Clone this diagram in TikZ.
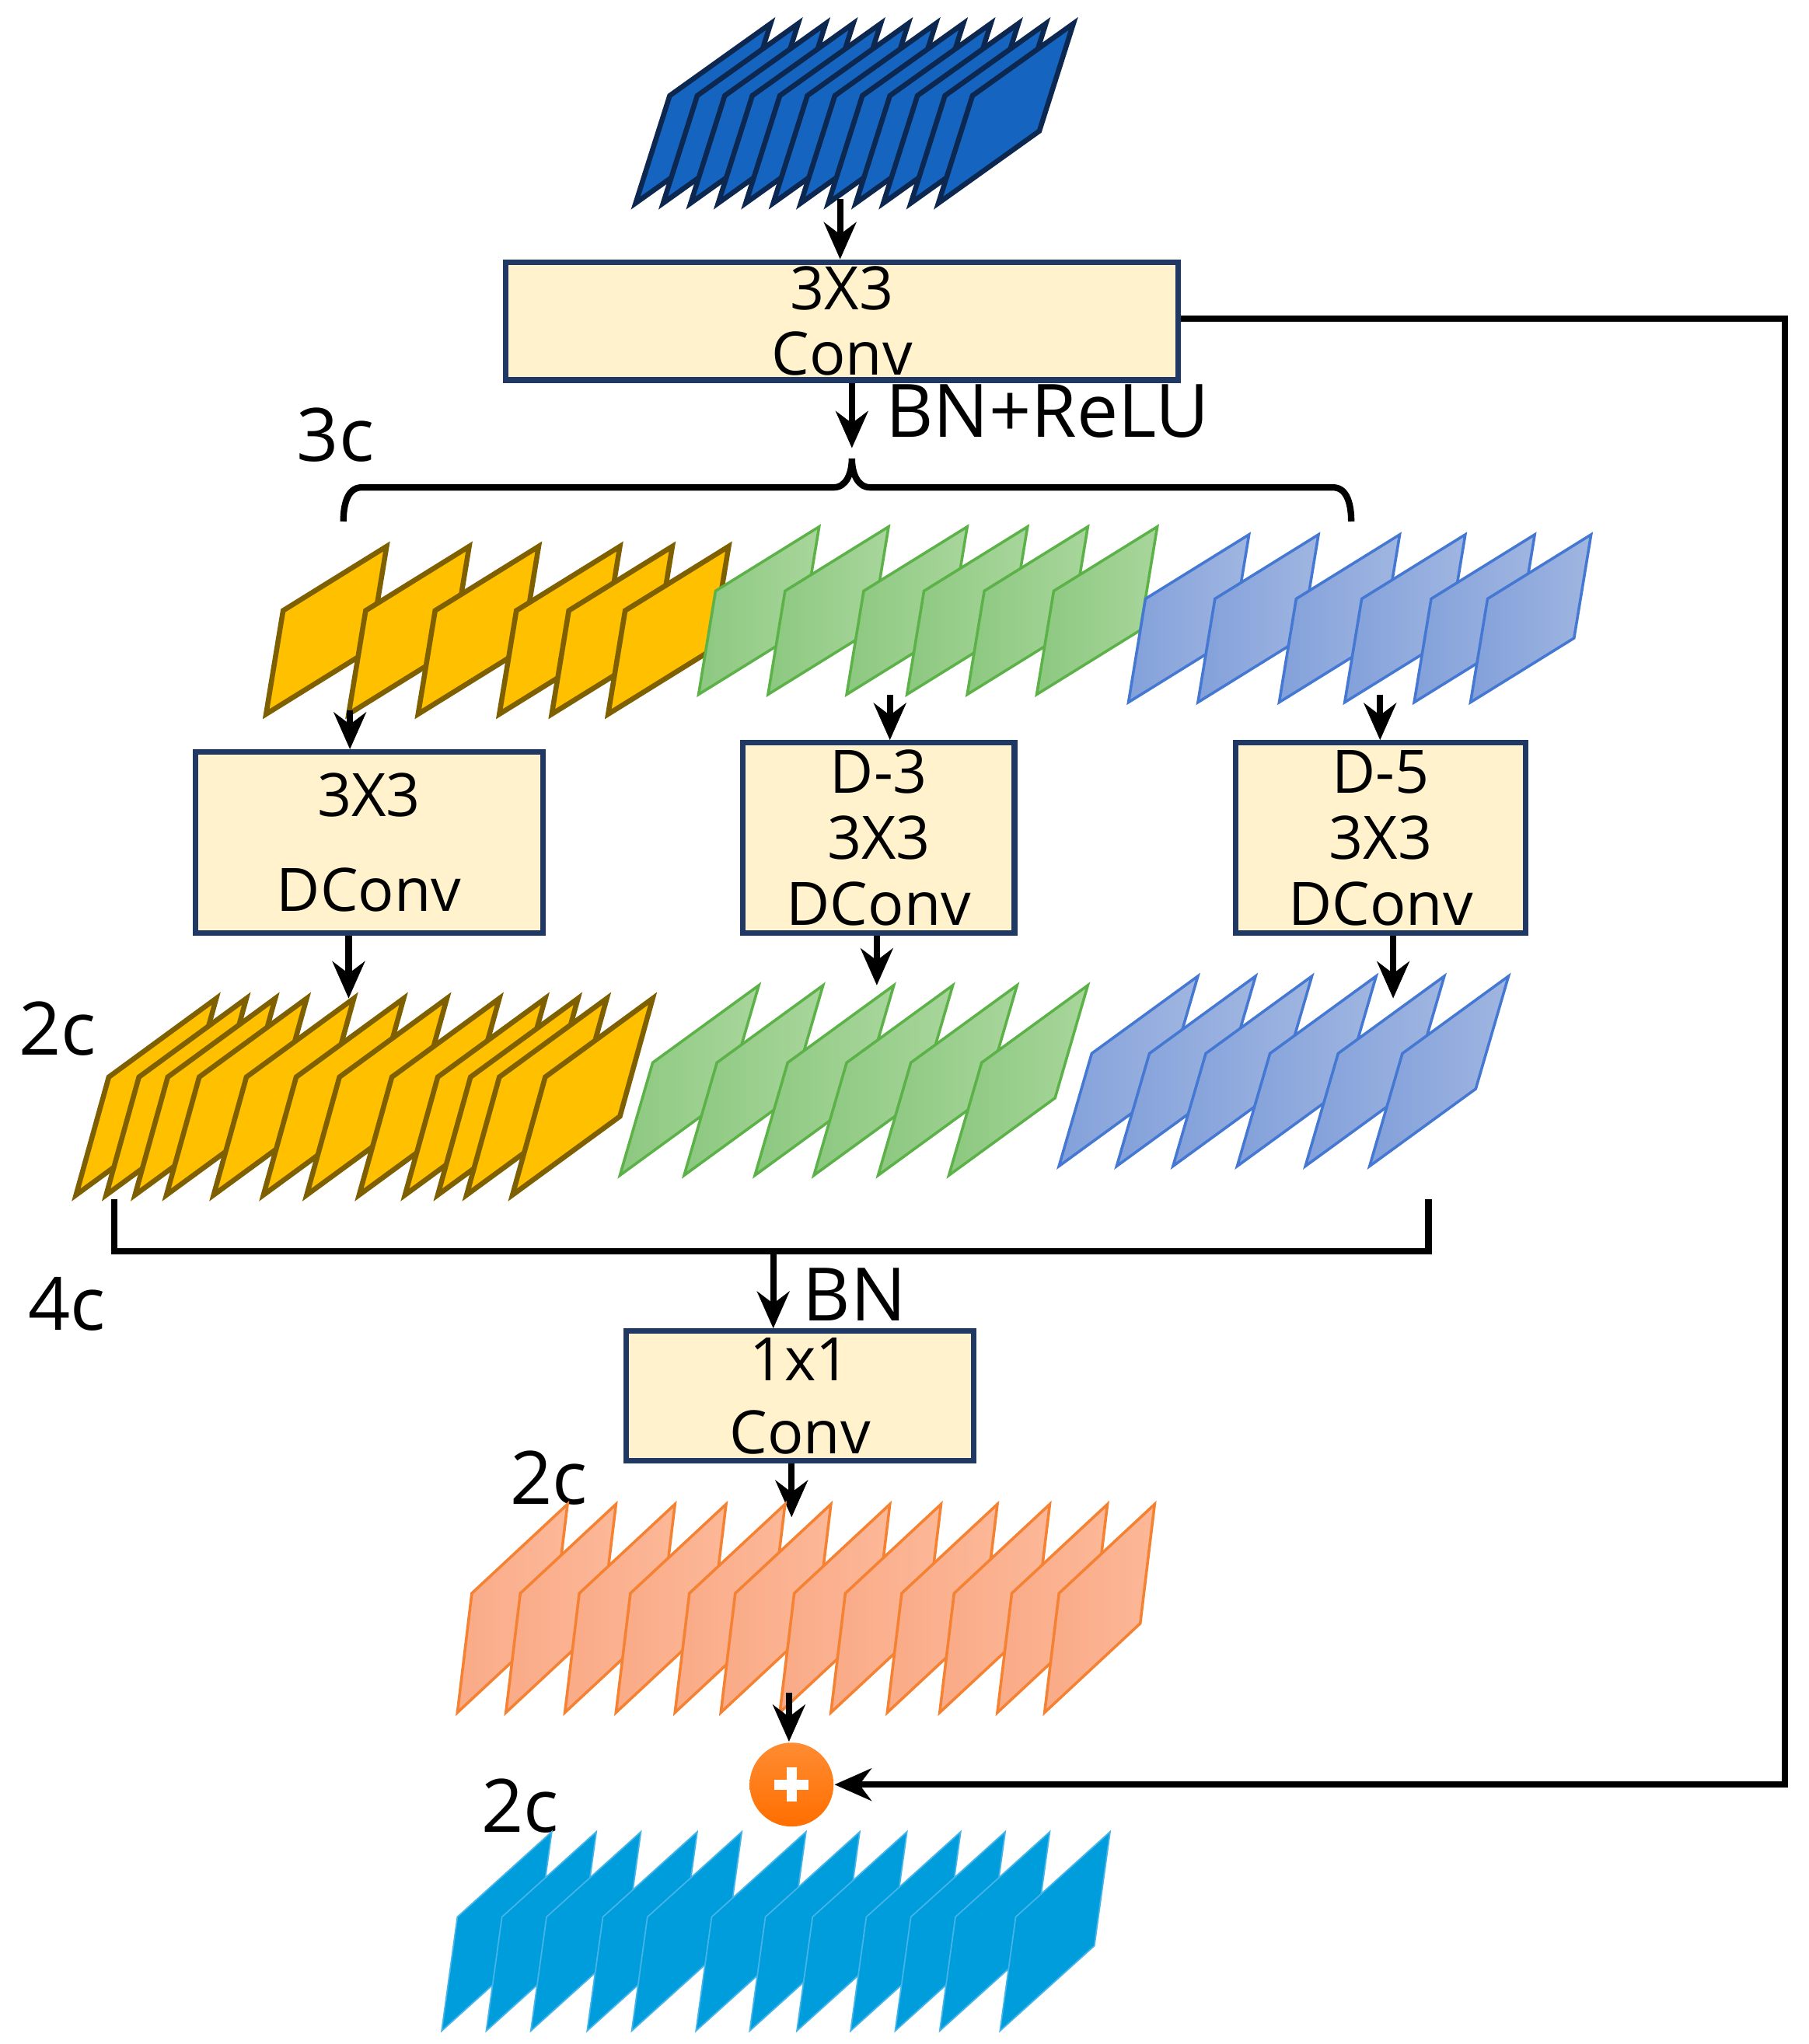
\documentclass[tikz,border=0pt]{standalone}
\usepackage{fontspec}
\setmainfont{Open Sans}
\usetikzlibrary{arrows.meta}
\definecolor{boxfill}{RGB}{255,242,204}
\definecolor{boxline}{RGB}{31,56,100}
\definecolor{dblue}{RGB}{21,101,192}
\definecolor{dblueL}{RGB}{12,40,80}
\definecolor{yel}{RGB}{255,192,0}
\definecolor{yelL}{RGB}{127,96,0}
\definecolor{grA}{RGB}{140,200,128}
\definecolor{grB}{RGB}{168,214,155}
\definecolor{grL}{RGB}{92,178,72}
\definecolor{blA}{RGB}{130,160,218}
\definecolor{blB}{RGB}{160,182,225}
\definecolor{blL}{RGB}{68,120,210}
\definecolor{orA}{RGB}{250,170,135}
\definecolor{orB}{RGB}{252,184,152}
\definecolor{orL}{RGB}{245,130,50}
\definecolor{cyanF}{RGB}{0,157,220}
\definecolor{cyanL}{RGB}{70,180,232}
\definecolor{plusA}{RGB}{255,140,50}
\definecolor{plusB}{RGB}{255,110,0}
\newcommand\sheetrow[6]{% style, v1, v2, -v1, yb, xs
  \foreach \xx in {#6}{\path[#1] (\xx,#5) -- ++(#2) -- ++(#3) -- ++(#4) -- cycle;}}
\begin{document}
\begin{tikzpicture}[x=0.01cm,y=-0.01cm,
  box/.style={draw=boxline,line width=1.2pt,fill=boxfill,align=center,inner sep=0pt,font=\fontsize{13}{14.3}\selectfont},
  arr/.style={-{Stealth[length=8pt,width=7pt]},line width=1.4pt},
  ln/.style={line width=1.4pt},
  lab/.style={font=\fontsize{16}{19}\selectfont,inner sep=0pt},
  s1/.style={fill=dblue,draw=dblueL,line width=1.1pt,line join=miter},
  sy/.style={fill=yel,draw=yelL,line width=1.1pt},
  sg/.style={left color=grA,right color=grB,draw=grL,line width=0.6pt},
  sb/.style={left color=blA,right color=blB,draw=blL,line width=0.6pt},
  so/.style={left color=orA,right color=orB,draw=orL,line width=0.6pt},
  sc/.style={fill=cyanF,draw=cyanL,line width=0.3pt}]
\useasboundingbox (0,0) rectangle (1380,1560);
% top stack
\sheetrow{s1}{26,-82}{77,-55}{-26,82}{155}{485,506,527,548,569,590,611,632,653,674,695,716}
% box 1
\node[box,minimum width=5.13cm,minimum height=0.9cm] (c1) at (642.5,245) {3X3\\Conv};
\coordinate (t1) at (641,152);
\draw[arr] (t1) -- (c1.north -| t1);
% feedback
\node[circle,minimum size=0.64cm,inner sep=0pt,top color=plusA,bottom color=plusB] (plus) at (604,1362) {};
\draw[white,line width=2.2pt] (plus.center) ++(-13,0) -- ++(26,0) (plus.center) ++(0,-13) -- ++(0,26);
\coordinate (fr) at (1362,243);
\draw[arr] (c1.east |- fr) -- (fr) -- (fr |- plus) -- (plus.east);
% BN+ReLU
\coordinate (b1) at (650,342);
\draw[arr] (c1.south -| b1) -- (b1);
\node[lab,anchor=west] (bnr) at (675,314) {BN+ReLU};
\node[lab] (l3c) at (256,332) {3c};
% brace
\draw[ln] (262,398) to[out=90,in=180] (276,372) -- (636,372) to[out=0,in=-90] (650,350) to[out=-90,in=180] (664,372) -- (1017,372) to[out=0,in=90] (1031,398);
% row 1
\sheetrow{sy}{13,-79}{79,-49}{-13,79}{545}{203,266,319,381,421,464}
\sheetrow{sg}{13,-79}{79,-49}{-13,79}{530}{533,586,646,692,738,791}
\sheetrow{sb}{13,-79}{79,-49}{-13,79}{536}{861,914,976,1026,1079,1122}
% boxes
\node[box,minimum width=2.65cm,minimum height=1.38cm] (d1) at (281.5,643) {3X3\\[0.22cm]DConv};
\node[box,minimum width=2.07cm,minimum height=1.45cm] (d2) at (670.5,639.5) {D-3\\3X3\\DConv};
\node[box,minimum width=2.21cm,minimum height=1.45cm] (d3) at (1053.5,639.5) {D-5\\3X3\\DConv};
\coordinate (a1) at (267,542); \coordinate (a2) at (679,530); \coordinate (a3) at (1053,530);
\draw[arr] (a1) -- (d1.north -| a1);
\draw[arr] (a2) -- (d2.north -| a2);
\draw[arr] (a3) -- (d3.north -| a3);
\coordinate (e1) at (266,762); \coordinate (e2) at (669,752); \coordinate (e3) at (1063,762);
\draw[arr] (d1.south -| e1) -- (e1);
\draw[arr] (d2.south -| e2) -- (e2);
\draw[arr] (d3.south -| e3) -- (e3);
% row 2
\sheetrow{sy}{25,-90}{82,-60}{-25,90}{912}{58,81,103,127,163,201,234,274,309,334,356,391}
\sheetrow{sg}{25,-86}{81,-59}{-25,86}{897}{473,522,576,621,670,724}
\sheetrow{sb}{25,-86}{81,-59}{-25,86}{890}{808,852,895,944,996,1045}
\node[lab] (l2a) at (44,785) {2c};
% bracket
\draw[ln] (87,915) -- (87,955) -- (1090,955) -- (1090,915);
\node[box,minimum width=2.65cm,minimum height=0.99cm] (k1) at (610.5,1065.5) {1x1\\[0.05cm]Conv};
\coordinate (m1) at (590,955);
\draw[arr] (m1) -- (k1.north -| m1);
\node[lab,anchor=west] (bn) at (612,988) {BN};
\node[lab] (l4c) at (51,995) {4c};
% orange row
\coordinate (o1) at (604,1158);
\draw[arr] (k1.south -| o1) -- (o1);
\node[lab] (l2b) at (419,1128) {2c};
\sheetrow{so}{11,-91}{73,-68}{-11,91}{1307}{349,386,431,470,515,550,595,634,677,717,761,797}
\coordinate (p1) at (602,1292);
\draw[arr] (p1) -- (plus.north -| p1);
\node[lab] (l2c) at (397,1378) {2c};
% cyan row
\sheetrow{sc}{12,-87}{72,-65}{-12,87}{1550}{337,371,405,448,482,531,572,608,649,683,717,763}
\end{tikzpicture}
\end{document}
